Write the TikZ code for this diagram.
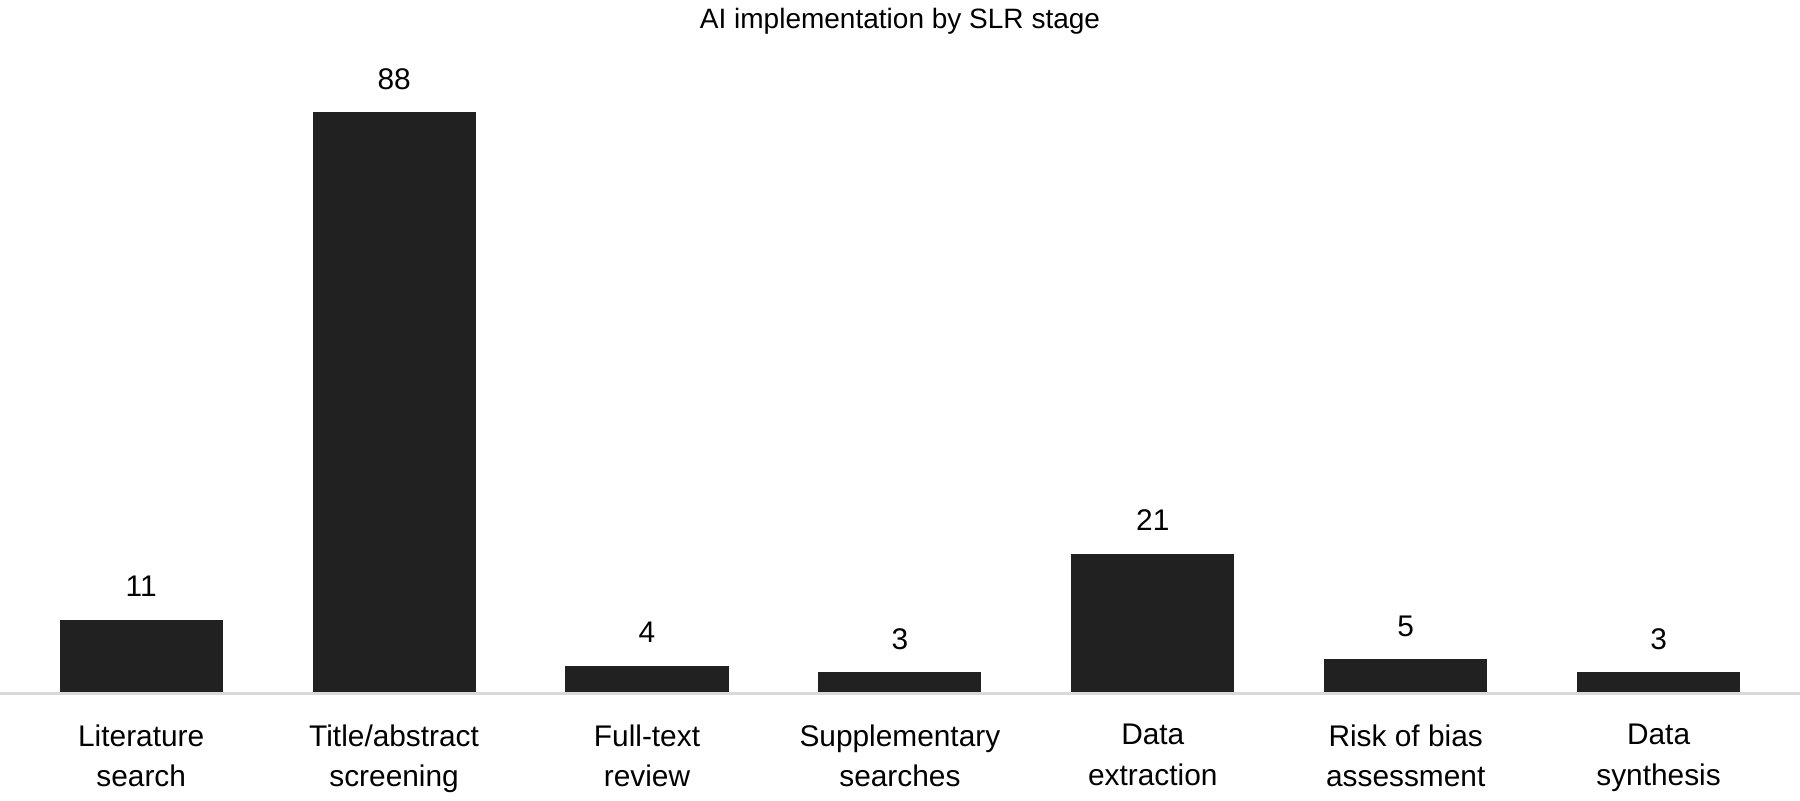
\documentclass[tikz,border=0pt]{standalone}
\usepackage{fontspec}
\setmainfont{Liberation Sans}
\begin{document}
\begin{tikzpicture}[x=0.5pt,y=-0.5pt,
  bar/.style={fill=black!87,draw=none},
  val/.style={font=\fontsize{13}{15}\selectfont,anchor=base},
  cat/.style={font=\fontsize{13}{17.5}\selectfont,align=center,anchor=north},
  ttl/.style={font=\fontsize{12.2}{14}\selectfont,anchor=base}]
\useasboundingbox (0,0) rectangle (1568,697);
\node[ttl] (title) at (784,25) {AI implementation by SLR stage};
\draw[black!15,line width=1pt] (0,604) coordinate (a0) -- (1568,604) coordinate (a1);
\foreach \i/\v/\n in {0/11/{Literature\\search},1/88/{Title/abstract\\screening},2/4/{Full-text\\review},3/3/{Supplementary\\searches},4/21/{Data\\extraction},5/5/{Risk of bias\\assessment},6/3/{Data\\synthesis}}{
  \pgfmathsetmacro{\cx}{123+220.3*\i}
  \pgfmathsetmacro{\top}{603-5.74*\v}
  \fill[bar] (\cx-71,603) rectangle (\cx+71,\top);
  \node[val] (v\i) at (\cx,\top-20) {\v};
  \node[cat] (c\i) at (\cx,624) {\n};
}
\end{tikzpicture}
\end{document}
